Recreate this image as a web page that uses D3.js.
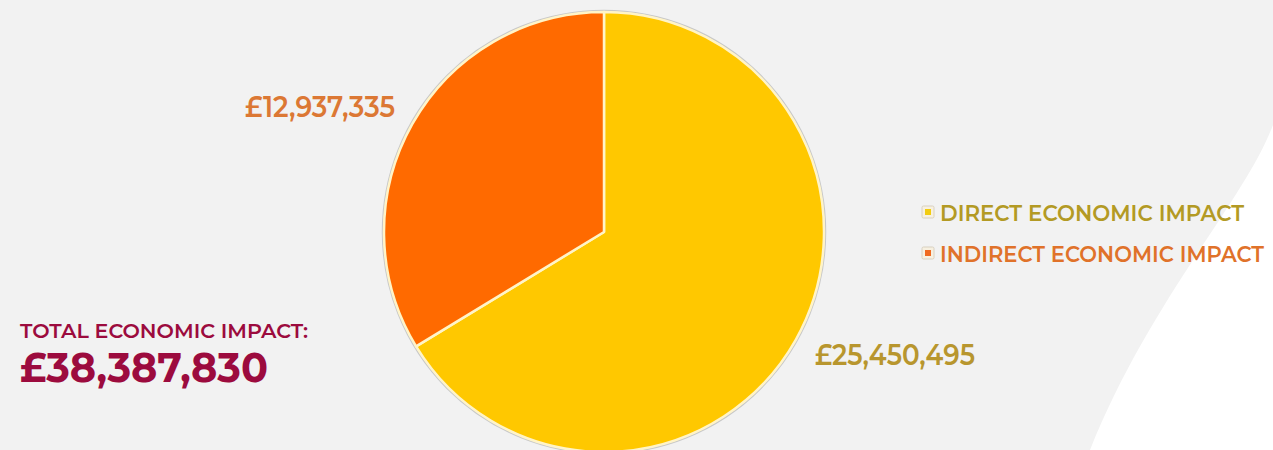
<!DOCTYPE html>
<html><head><meta charset="utf-8">
<script src="https://cdn.jsdelivr.net/npm/d3@7"></script>
<style>html,body{margin:0;padding:0;background:#f2f2f2;overflow:hidden}</style>
</head><body>
<svg id="c" width="1273" height="450"></svg>
<script>
const categories = ["DIRECT ECONOMIC IMPACT", "INDIRECT ECONOMIC IMPACT"];
const values = [25450495, 12937335];
const valueLabels = ["£25,450,495", "£12,937,335"];
const totalTitle = "TOTAL ECONOMIC IMPACT:";
const totalLabel = "£38,387,830";

const colors = ["#ffc800", "#ff6a00"];
const labelColors = ["#b8962e", "#dc7834"];
const legendColors = ["#b39a24", "#e0722a"];

const svg = d3.select("#c");
const W = 1273, H = 450;
svg.append("rect").attr("width", W).attr("height", H).attr("fill", "#f2f2f2");
// white swoosh bottom-right
svg.append("path")
  .attr("d", "M1273,125 C1245,200 1150,300 1090,450 L1273,450 Z")
  .attr("fill", "#ffffff");

const cx = 604, cy = 232, r = 220;
const g = svg.append("g").attr("transform", `translate(${cx},${cy})`);
g.append("circle").attr("r", r + 1.5).attr("fill", "none").attr("stroke", "#c8c8c8").attr("stroke-width", 1.5);
const pie = d3.pie().sort(null).value(d => d)(values);
const arc = d3.arc().innerRadius(0).outerRadius(r);
g.selectAll("path.s").data(pie).join("path")
  .attr("class", "s")
  .attr("d", arc)
  .attr("fill", (d, i) => colors[i])
  .attr("stroke", "#fff4c8").attr("stroke-width", 2.5).attr("stroke-linejoin", "round");

const font = "Montserrat, 'DejaVu Sans', sans-serif";
// value labels
const labelPos = [{x: 815, y: 365, w: 160}, {x: 245, y: 117, w: 150}];
svg.selectAll("text.v").data(valueLabels).join("text")
  .attr("class", "v")
  .attr("x", (d, i) => labelPos[i].x).attr("y", (d, i) => labelPos[i].y)
  .attr("textLength", (d, i) => labelPos[i].w).attr("lengthAdjust", "spacingAndGlyphs")
  .attr("font-family", font).attr("font-size", 29).attr("font-weight", 600)
  .attr("fill", (d, i) => labelColors[i])
  .text(d => d);

// legend
const leg = svg.append("g");
const legY = [212, 253];
const legW = [304, 324];
categories.forEach((c, i) => {
  leg.append("rect").attr("x", 922).attr("y", legY[i] - 6).attr("width", 12).attr("height", 12)
    .attr("fill", "#f7f0e0").attr("stroke", "#d8d0c0").attr("stroke-width", 1).attr("rx", 1.5);
  leg.append("rect").attr("x", 925).attr("y", legY[i] - 3).attr("width", 6).attr("height", 6)
    .attr("fill", i === 0 ? "#f2cc10" : "#f06a20");
  leg.append("text").attr("x", 940).attr("y", legY[i] + 9)
    .attr("textLength", legW[i]).attr("lengthAdjust", "spacingAndGlyphs")
    .attr("font-family", font).attr("font-size", 21.5).attr("font-weight", 600)
    .attr("fill", legendColors[i]).text(c);
});

// total
svg.append("text").attr("x", 20).attr("y", 338)
  .attr("textLength", 288).attr("lengthAdjust", "spacingAndGlyphs")
  .attr("font-family", font).attr("font-size", 19.5).attr("font-weight", 600)
  .attr("fill", "#9c0b3e").text(totalTitle);
svg.append("text").attr("x", 20).attr("y", 382)
  .attr("textLength", 248).attr("lengthAdjust", "spacingAndGlyphs")
  .attr("font-family", font).attr("font-size", 42).attr("font-weight", 700)
  .attr("fill", "#9c0b3e").text(totalLabel);
</script>
</body></html>
